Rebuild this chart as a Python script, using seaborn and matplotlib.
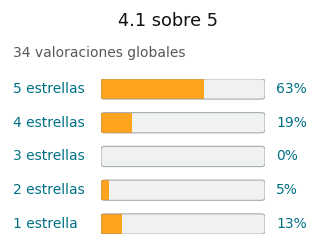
import matplotlib
matplotlib.use("Agg")
import matplotlib.pyplot as plt
import matplotlib.transforms as mtransforms
from matplotlib.patches import FancyBboxPatch
import seaborn as sns
import pandas as pd

# datos del resumen de valoraciones
rating_labels = ['5 estrellas', '4 estrellas', '3 estrellas', '2 estrellas', '1 estrella']
percents = [63, 19, 0, 5, 13]
title_text = '4.1 sobre 5'
subtitle_text = '34 valoraciones globales'

ORANGE = '#FFA41C'
ORANGE_EDGE = '#E8901A'
TRACK = '#F0F2F2'
EDGE = '#A9ADAD'
TEAL = '#007185'

sns.set_theme(style='white')
plt.rcParams['font.family'] = ['DejaVu Sans']

df = pd.DataFrame({'label': rating_labels, 'pct': percents})
df['full'] = 100

fig = plt.figure(figsize=(3.2, 2.52), dpi=100)
ax = fig.add_axes([101 / 320, (252 - 234.1) / 252, 164 / 320, 155.25 / 252])

bar_w = 0.6
sns.barplot(data=df, x='full', y='label', color=TRACK, width=bar_w, ax=ax,
            saturation=1, orient='h')
n_track = len(ax.patches)
sns.barplot(data=df, x='pct', y='label', color=ORANGE, width=bar_w, ax=ax,
            saturation=1, orient='h')

ax.set_xlim(0, 100)
ax.set_ylim(len(rating_labels) - 1 + 0.3, -0.3)
ax.set_axis_off()

# convertir las barras en cajas redondeadas
fig.canvas.draw()
bbox = ax.get_window_extent()
x_per_px = 100 / bbox.width
y_per_px = (len(rating_labels) - 1 + 0.6) / bbox.height
aspect = y_per_px / x_per_px
rad = 3.5 * x_per_px
style = f'round,pad=0,rounding_size={rad}'

patches = list(ax.patches)
tracks = patches[:n_track]
fills = patches[n_track:]
for tr, fl in zip(tracks, fills):
    x, y, w, h = tr.get_x(), tr.get_y(), tr.get_width(), tr.get_height()
    tr.set_visible(False)
    box = FancyBboxPatch((x, y), w, h, boxstyle=style, mutation_aspect=aspect,
                         facecolor=TRACK, edgecolor='none', zorder=1)
    ax.add_patch(box)
    outline = FancyBboxPatch((x, y), w, h, boxstyle=style, mutation_aspect=aspect,
                             facecolor='none', edgecolor=EDGE, linewidth=0.8, zorder=3)
    ax.add_patch(outline)
    fl.set_zorder(2)
    fl.set_linewidth(0)
    fl.set_clip_path(box)
    # borde naranja oscuro sobre la parte rellena
    if fl.get_width() > 0:
        orange_outline = FancyBboxPatch((x, y), w, h, boxstyle=style,
                                        mutation_aspect=aspect, facecolor='none',
                                        edgecolor=ORANGE_EDGE, linewidth=0.8, zorder=4)
        ax.add_patch(orange_outline)
        orange_outline.set_clip_path(fl)

# etiquetas
trans = mtransforms.blended_transform_factory(fig.transFigure, ax.transData)
for i, (lab, p) in enumerate(zip(rating_labels, percents)):
    ax.text(13 / 320, i, lab, transform=trans, ha='left', va='center',
            color=TEAL, fontsize=10)
    ax.text(276 / 320, i, f'{p}%', transform=trans, ha='left', va='center',
            color=TEAL, fontsize=10)

fig.text(168 / 320, 1 - 21 / 252, title_text, ha='center', va='center',
         fontsize=12.8, color='#0F1111')
fig.text(13 / 320, 1 - 53 / 252, subtitle_text, ha='left', va='center',
         fontsize=10, color='#565959')

fig.savefig('out.png', dpi=100)
